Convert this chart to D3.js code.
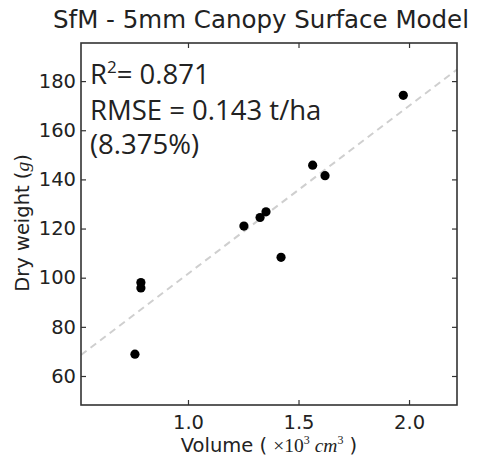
<!DOCTYPE html>
<html>
<head>
<meta charset="utf-8">
<script src="https://cdn.jsdelivr.net/npm/d3@7"></script>
<style>
  body { margin: 0; background: #fff; }
  text { font-family: "DejaVu Sans", sans-serif; fill: #222; }
</style>
</head>
<body>
<script>
// measured points: volume (x10^3 cm^3) vs dry weight (g)
const volume = [0.76, 0.787, 0.787, 1.253, 1.326, 1.353, 1.421, 1.564, 1.62, 1.974];
const dryWeight = [68.9, 95.8, 98.0, 121.0, 124.5, 126.8, 108.3, 145.8, 141.5, 174.2];

// fitted line y = a + b*x
const fitIntercept = 33.3;
const fitSlope = 68.3;

const xTicks = [1.0, 1.5, 2.0];
const yTicks = [60, 80, 100, 120, 140, 160, 180];

const statLines = ["RMSE = 0.143 t/ha", "(8.375%)"];

const width = 477, height = 456;
const margin = { top: 43, right: 20, bottom: 51, left: 81 };

const svg = d3.select('body').append('svg')
  .attr('width', width)
  .attr('height', height);

const x = d3.scaleLinear()
  .domain([0.516, 2.217])
  .range([margin.left, width - margin.right]);

const y = d3.scaleLinear()
  .domain([48.2, 195.5])
  .range([height - margin.bottom, margin.top]);

// fit line, clipped to the plot area
const xd = x.domain();
svg.append('defs').append('clipPath').attr('id', 'plot')
  .append('rect')
  .attr('x', margin.left).attr('y', margin.top)
  .attr('width', x.range()[1] - x.range()[0])
  .attr('height', y.range()[0] - y.range()[1]);

svg.append('line')
  .attr('clip-path', 'url(#plot)')
  .attr('x1', x(xd[0])).attr('y1', y(fitIntercept + fitSlope * xd[0]))
  .attr('x2', x(xd[1])).attr('y2', y(fitIntercept + fitSlope * xd[1]))
  .attr('stroke', '#cfcfcf')
  .attr('stroke-width', 2)
  .attr('stroke-dasharray', '7,5');

// points
svg.append('g')
  .selectAll('circle')
  .data(volume)
  .join('circle')
  .attr('cx', d => x(d))
  .attr('cy', (d, i) => y(dryWeight[i]))
  .attr('r', 4.6)
  .attr('fill', '#000');

// axes: inward ticks on all four sides
const tickLen = 5;
const styleAxis = g => {
  g.select('.domain').remove();
  g.selectAll('line').attr('stroke', '#333').attr('stroke-width', 1.2);
  g.selectAll('text').style('font-size', '19.5px').attr('fill', '#222');
};

svg.append('g')
  .attr('transform', `translate(0,${y.range()[0]})`)
  .call(d3.axisBottom(x).tickValues(xTicks).tickFormat(d3.format('.1f'))
    .tickSizeInner(-tickLen).tickSizeOuter(0).tickPadding(10))
  .call(styleAxis);

svg.append('g')
  .attr('transform', `translate(0,${y.range()[1]})`)
  .call(d3.axisTop(x).tickValues(xTicks).tickFormat('')
    .tickSizeInner(-tickLen).tickSizeOuter(0))
  .call(styleAxis);

svg.append('g')
  .attr('transform', `translate(${x.range()[0]},0)`)
  .call(d3.axisLeft(y).tickValues(yTicks)
    .tickSizeInner(-tickLen).tickSizeOuter(0).tickPadding(5))
  .call(styleAxis);

svg.append('g')
  .attr('transform', `translate(${x.range()[1]},0)`)
  .call(d3.axisRight(y).tickValues(yTicks).tickFormat('')
    .tickSizeInner(-tickLen).tickSizeOuter(0))
  .call(styleAxis);

// frame
svg.append('rect')
  .attr('x', x.range()[0]).attr('y', y.range()[1])
  .attr('width', x.range()[1] - x.range()[0])
  .attr('height', y.range()[0] - y.range()[1])
  .attr('fill', 'none')
  .attr('stroke', '#333')
  .attr('stroke-width', 1.6);

// title
svg.append('text')
  .attr('x', 261).attr('y', 28)
  .attr('text-anchor', 'middle')
  .style('font-size', '24.5px')
  .text('SfM - 5mm Canopy Surface Model');

// x label
const xl = svg.append('text')
  .attr('x', 269).attr('y', 452)
  .attr('text-anchor', 'middle')
  .style('font-size', '19.5px');
xl.append('tspan').text('Volume ( ');
xl.append('tspan').style('font-family', '"Liberation Serif", serif').text('\u00d710');
xl.append('tspan').style('font-family', '"Liberation Serif", serif').style('font-size', '12px').attr('dy', -8).text('3');
xl.append('tspan').style('font-family', '"Liberation Serif", serif').style('font-style', 'italic').attr('dy', 8).text(' cm');
xl.append('tspan').style('font-family', '"Liberation Serif", serif').style('font-size', '12px').attr('dy', -8).text('3');
xl.append('tspan').attr('dy', 8).text(' )');

// y label
const yl = svg.append('text')
  .attr('transform', 'translate(29,223) rotate(-90)')
  .attr('text-anchor', 'middle')
  .style('font-size', '19.5px');
yl.append('tspan').text('Dry weight (');
yl.append('tspan').style('font-family', '"Liberation Serif", serif').style('font-style', 'italic').text('g');
yl.append('tspan').text(')');

// stats annotation
const ann = svg.append('g').attr('transform', 'translate(90,0)');
const r2 = ann.append('text').attr('y', 84)
  .style('font-family', '"Open Sans", sans-serif').style('font-size', '27.5px').attr('fill', '#000');
r2.append('tspan').text('R');
r2.append('tspan').style('font-size', '17px').attr('dy', -11).text('2');
r2.append('tspan').attr('dy', 11).text('= 0.871');

ann.selectAll('text.stat')
  .data(statLines)
  .join('text')
  .attr('class', 'stat')
  .attr('y', (d, i) => 120 + i * 34)
  .style('font-family', '"Open Sans", sans-serif')
  .style('font-size', '27.5px')
  .attr('fill', '#000')
  .text(d => d);
</script>
</body>
</html>
